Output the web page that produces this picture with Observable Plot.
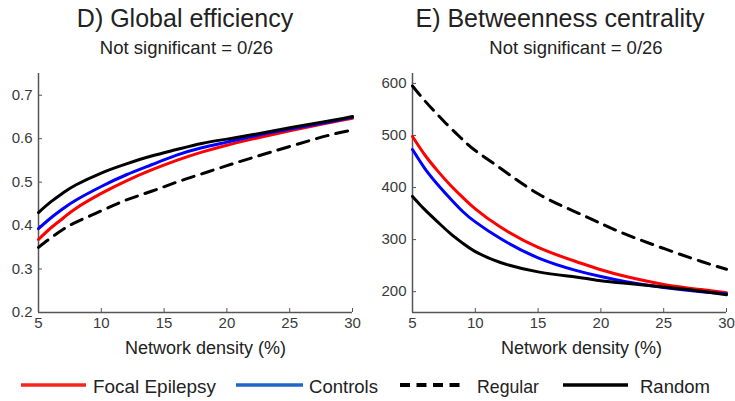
<!DOCTYPE html>
<html><head><meta charset="utf-8">
<script src="https://cdn.jsdelivr.net/npm/d3@7"></script>
<script src="https://cdn.jsdelivr.net/npm/@observablehq/plot@0.6"></script>
<style>
body{margin:0;background:#fff;}
#wrap{position:relative;width:735px;height:401px;overflow:hidden;font-family:"Liberation Sans",Arial,sans-serif;}
#wrap > svg{position:absolute;}
</style></head><body><div id="wrap"></div>
<script>
// ---- data ----
const seriesNames = ["Focal Epilepsy", "Controls", "Regular", "Random"];
const xTicks = [5, 10, 15, 20, 25, 30];
const effTicks = [0.2, 0.3, 0.4, 0.5, 0.6, 0.7];
const btwTicks = [200, 300, 400, 500, 600];

const effDensity = [5, 6, 7, 8, 10, 12, 14, 16, 18, 20, 22, 25, 28, 30];
const effFocal    = [0.368,0.395,0.418,0.440,0.474,0.503,0.528,0.550,0.569,0.585,0.599,0.618,0.636,0.647];
const effControls = [0.393,0.418,0.440,0.459,0.490,0.517,0.540,0.562,0.579,0.592,0.605,0.622,0.638,0.649];
const effRegular  = [0.350,0.372,0.392,0.408,0.434,0.459,0.479,0.500,0.519,0.538,0.556,0.582,0.607,0.620];
const effRandom   = [0.430,0.455,0.476,0.494,0.521,0.542,0.560,0.575,0.589,0.599,0.609,0.625,0.640,0.651];

const btwDensity = [5, 6, 7, 8, 9, 10, 12, 15, 18, 20, 22, 25, 28, 30];
const btwFocal    = [498,462,432,405,381,359,324,285,258,242,229,214,204,198];
const btwControls = [473,436,406,379,354,334,302,265,241,229,219,208,200,196];
const btwRegular  = [595,566,540,515,492,471,437,388,353,331,310,283,258,243];
const btwRandom   = [383,357,334,312,293,277,256,238,228,221,216,209,201,194];

// ---- build ----
const font = '"Liberation Sans", Arial, sans-serif';
const colors = {"Focal Epilepsy": "#ff0000", "Controls": "#0000ff", "Regular": "#000000", "Random": "#000000"};
function table(xs, vals) {
  const out = [];
  seriesNames.forEach((s, i) => xs.forEach((x, j) => out.push({series: s, x, y: vals[i][j]})));
  return out;
}
const effData = table(effDensity, [effFocal, effControls, effRegular, effRandom]);
const btwData = table(btwDensity, [btwFocal, btwControls, btwRegular, btwRandom]);

function panel(data, yDomain, yTicks, yFormat, opts) {
  const lines = seriesNames.map(s => Plot.line(data.filter(d => d.series === s), {
    x: "x", y: "y", stroke: colors[s], strokeWidth: 3, curve: "natural",
    strokeDasharray: s === "Regular" ? "12,8" : null
  }));
  return Plot.plot({
    width: opts.width, height: 300,
    marginLeft: opts.ml, marginRight: opts.mr, marginTop: 13, marginBottom: 48,
    style: {fontFamily: font, fontSize: "15px", color: "#3a3a3a", overflow: "visible", background: "transparent"},
    x: {domain: [5, 30]},
    y: {domain: yDomain},
    marks: [
      Plot.ruleX([5], {stroke: "#555", strokeWidth: 1.5}),
      Plot.ruleY([yDomain[0]], {stroke: "#555", strokeWidth: 1.5}),
      Plot.axisX({ticks: xTicks, tickSize: -4, tickPadding: 9, label: null, stroke: "#555", fontSize: 15}),
      Plot.axisY({ticks: yTicks, tickSize: -4, tickPadding: 10, label: null, tickFormat: yFormat, stroke: "#555", fontSize: 15}),
      ...lines,
      Plot.text(["Network density (%)"], {frameAnchor: "bottom", text: d => d, dy: 41, dx: opts.labelDx, fontSize: 18, fill: "#222", lineAnchor: "bottom"})
    ]
  });
}

const wrap = document.getElementById("wrap");
const left = panel(effData, [0.2, 0.75], effTicks, d3.format(".1f"), {width: 370, ml: 38, mr: 18, labelDx: 10});
left.style.left = "0px"; left.style.top = "60px";
wrap.appendChild(left);
const right = panel(btwData, [160, 619], btwTicks, d3.format("d"), {width: 365, ml: 42, mr: 9, labelDx: 12});
right.style.left = "370px"; right.style.top = "60px";
wrap.appendChild(right);

// titles and legend overlay
const svg = d3.create("svg").attr("width", 735).attr("height", 401)
  .style("left", "0px").style("top", "0px").style("font-family", font);
const titles = [
  {t: "D) Global efficiency", x: 185, y: 27, s: 25},
  {t: "Not significant = 0/26", x: 186.5, y: 54, s: 18.5},
  {t: "E) Betweenness centrality", x: 560, y: 27, s: 25},
  {t: "Not significant = 0/26", x: 576, y: 54, s: 18.5}
];
titles.forEach(d => svg.append("text").attr("x", d.x).attr("y", d.y).attr("text-anchor", "middle")
  .attr("font-size", d.s).attr("fill", "#222").text(d.t));

const legendItems = [
  {name: "Focal Epilepsy", color: "#f4261c", dash: null, x0: 21, x1: 86, tx: 93, tw: 123},
  {name: "Controls", color: "#1f64c8", dash: null, x0: 236, x1: 303, tx: 309, tw: 69},
  {name: "Regular", color: "#000", dash: "10,6.5", x0: 400, x1: 465, tx: 477, tw: 62},
  {name: "Random", color: "#000", dash: null, x0: 563, x1: 628, tx: 640, tw: 70}
];
legendItems.forEach(d => {
  svg.append("line").attr("x1", d.x0).attr("x2", d.x1).attr("y1", 385).attr("y2", 385)
    .attr("stroke", d.color).attr("stroke-width", d.dash ? 4 : 3.5).attr("stroke-dasharray", d.dash);
  svg.append("text").attr("x", d.tx).attr("y", 393).attr("font-size", 19).attr("fill", "#222")
    .attr("textLength", d.tw).attr("lengthAdjust", "spacingAndGlyphs").text(d.name);
});
wrap.appendChild(svg.node());
</script>
</body></html>
